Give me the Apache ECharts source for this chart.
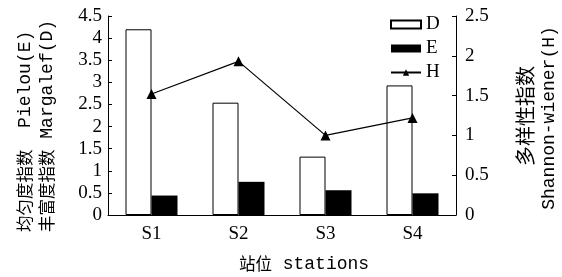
<!DOCTYPE html>
<html>
<head>
<meta charset="utf-8">
<script src="https://cdn.jsdelivr.net/npm/echarts@6/dist/echarts.min.js"></script>
<style>
html,body{margin:0;padding:0;background:#fff}
#main{width:562px;height:277px}
</style>
</head>
<body>
<div id="main"></div>
<script>
// 站位
var stations = ['S1', 'S2', 'S3', 'S4']
// 丰富度指数 Margalef(D)
var valD = [4.2, 2.54, 1.32, 2.93]
// 均匀度指数 Pielou(E)
var valE = [0.44, 0.75, 0.56, 0.49]
// 多样性指数 Shannon-wiener(H)
var valH = [1.52, 1.93, 1.0, 1.22]

var serif = 'Liberation Serif'
var richT = {
    c: {fontFamily: 'Noto Sans CJK SC', fontSize: 16.5, fill: '#000'},
    b: {fontFamily: 'Noto Sans CJK SC', fontSize: 20, fill: '#000'},
    l: {fontFamily: 'Liberation Mono', fontSize: 18, fill: '#000'}
}

var myChart = echarts.init(document.getElementById('main'))
var option = {
    animation: false,
    backgroundColor: '#fff',
    grid: {left: 108, right: 106, top: 16, bottom: 62},
    legend: {
        orient: 'vertical',
        left: 390,
        top: 15,
        padding: 0,
        itemWidth: 30,
        itemHeight: 8,
        itemGap: 5,
        itemTextGap: 8,
        textStyle: {fontFamily: serif, fontSize: 19, color: '#000'},
        data: [{name: 'D', icon: 'rect'}, {name: 'E', icon: 'rect'}, {name: 'H'}]
    },
    xAxis: {
        type: 'category',
        data: stations,
        axisLine: {lineStyle: {color: '#000', width: 1}},
        axisTick: {inside: true, length: 4, lineStyle: {color: '#000'}},
        axisLabel: {fontFamily: serif, fontSize: 19, color: '#000', margin: 10}
    },
    yAxis: [{
        type: 'value',
        min: 0, max: 4.5, interval: 0.5,
        axisLine: {show: true, lineStyle: {color: '#000'}},
        axisTick: {show: true, inside: true, length: 4, lineStyle: {color: '#000'}},
        axisLabel: {fontFamily: serif, fontSize: 19, color: '#000', margin: 6},
        splitLine: {show: false}
    }, {
        type: 'value',
        min: 0, max: 2.5, interval: 0.5,
        axisLine: {show: true, lineStyle: {color: '#000'}},
        axisTick: {show: true, inside: true, length: 4, lineStyle: {color: '#000'}},
        axisLabel: {fontFamily: serif, fontSize: 19, color: '#000', margin: 9},
        splitLine: {show: false}
    }],
    series: [{
        name: 'D',
        type: 'bar',
        data: valD,
        barWidth: 26,
        barGap: '0%',
        itemStyle: {color: '#fff', borderColor: '#000', borderWidth: 1}
    }, {
        name: 'E',
        type: 'bar',
        data: valE,
        barWidth: 26,
        barGap: '0%',
        itemStyle: {color: '#000'}
    }, {
        name: 'H',
        type: 'line',
        yAxisIndex: 1,
        data: valH,
        symbol: 'triangle',
        symbolSize: 10,
        itemStyle: {color: '#000'},
        lineStyle: {color: '#000', width: 1.2},
        z: 5
    }],
    graphic: [{
        type: 'text', x: 25, y: 232, rotation: Math.PI / 2,
        style: {text: '{c|均匀度指数}{l|  Pielou(E)}', rich: richT, align: 'left', verticalAlign: 'middle'}
    }, {
        type: 'text', x: 47, y: 232, rotation: Math.PI / 2,
        style: {text: '{c|丰富度指数}{l| Margalef(D)}', rich: richT, align: 'left', verticalAlign: 'middle'}
    }, {
        type: 'text', x: 525, y: 116, rotation: Math.PI / 2,
        style: {text: '{b|多样性指数}', rich: richT, align: 'center', verticalAlign: 'middle'}
    }, {
        type: 'text', x: 549, y: 118, rotation: Math.PI / 2,
        style: {text: '{l|Shannon-wiener(H)}', rich: richT, align: 'center', verticalAlign: 'middle'}
    }, {
        type: 'text', x: 304, y: 264,
        style: {text: '{c|站位}{l| stations}', rich: richT, align: 'center', verticalAlign: 'middle'}
    }]
}
myChart.setOption(option)
</script>
</body>
</html>
